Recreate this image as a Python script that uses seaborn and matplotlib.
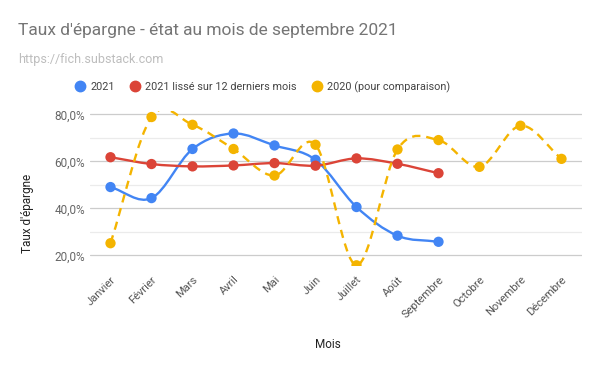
#!/usr/bin/env python3
# Taux d'epargne 2021 vs 2020, smoothed lines like the Google Sheets chart

import numpy as np
import pandas as pd
import seaborn as sns
import matplotlib.pyplot as plt
from matplotlib.path import Path
from matplotlib.patches import PathPatch
from matplotlib.lines import Line2D

sns.set_style("white")
plt.rcParams['font.family'] = ['Roboto', 'DejaVu Sans']

MONTHS = ["Janvier", "Février", "Mars", "Avril", "Mai", "Juin", "Juillet",
          "Août", "Septembre", "Octobre", "Novembre", "Décembre"]
TAUX_2021 = [49.1, 44.4, 65.3, 71.9, 66.8, 60.7, 40.6, 28.4, 25.8]
TAUX_2021_LISSE = [61.8, 58.9, 57.9, 58.3, 59.3, 58.2, 61.3, 59.0, 55.0]
TAUX_2020 = [25.2, 78.9, 75.6, 65.3, 54.0, 67.1, 15.8, 65.1, 69.1, 57.7, 75.2, 61.1]

SERIES = ["2021", "2021 lissé sur 12 derniers mois", "2020 (pour comparaison)"]
COLORS = ["#4285F4", "#DB4437", "#F4B400"]


def smooth_path(ys):
    # cubic bezier through every point, catmull-rom tangents
    ys = np.asarray(ys, dtype=float)
    xs = np.arange(len(ys), dtype=float)
    m = np.empty_like(ys)
    m[1:-1] = (ys[2:] - ys[:-2]) / 2
    m[0] = ys[1] - ys[0]
    m[-1] = ys[-1] - ys[-2]
    verts = [(xs[0], ys[0])]
    codes = [Path.MOVETO]
    for i in range(len(ys) - 1):
        verts += [(xs[i] + 1 / 3, ys[i] + m[i] / 3),
                  (xs[i + 1] - 1 / 3, ys[i + 1] - m[i + 1] / 3),
                  (xs[i + 1], ys[i + 1])]
        codes += [Path.CURVE4] * 3
    return Path(verts, codes)


fig = plt.figure(figsize=(6, 3.71), dpi=100)
ax = fig.add_axes([0.15, 0.283, 0.82, 0.418])

rows = []
for name, vals in zip(SERIES, [TAUX_2021, TAUX_2021_LISSE, TAUX_2020]):
    for i, v in enumerate(vals):
        rows.append({"mois": i, "taux": v, "serie": name})
df = pd.DataFrame(rows)

styles = ["-", "-", (0, (3.5, 2.5))]
for vals, color, ls in zip([TAUX_2021, TAUX_2021_LISSE, TAUX_2020], COLORS, styles):
    ax.add_patch(PathPatch(smooth_path(vals), facecolor="none", edgecolor=color,
                           lw=1.7, linestyle=ls, zorder=2))

sns.scatterplot(data=df, x="mois", y="taux", hue="serie", hue_order=SERIES,
                palette=COLORS, s=55, edgecolor="none", legend=False,
                ax=ax, zorder=3)

ax.set_xlim(-0.5, 11.5)
ax.set_ylim(15.5, 81.5)
ax.set_xticks(range(12))
ax.set_xticklabels(MONTHS, rotation=45, ha="right", rotation_mode="anchor",
                   color="#555555", fontsize=8)
ax.set_yticks([20, 40, 60, 80])
ax.set_yticklabels([f"{v:.1f}%".replace(".", ",") for v in [20, 40, 60, 80]],
                   color="#666666", fontsize=8.5)
ax.set_yticks([30, 50, 70], minor=True)
ax.tick_params(length=0, which="both")
ax.tick_params(axis="x", pad=6)
ax.grid(axis="y", which="major", color="#cccccc", lw=0.9)
ax.grid(axis="y", which="minor", color="#ebebeb", lw=0.9)
ax.set_axisbelow(True)
for s in ax.spines.values():
    s.set_visible(False)
ax.set_xlabel("")
ax.set_ylabel("")

fig.text(18 / 600, 1 - 30 / 371, "Taux d'épargne - état au mois de septembre 2021",
         fontsize=12.5, color="#757575", va="center")
fig.text(18 / 600, 1 - 59 / 371, "https://fich.substack.com",
         fontsize=9, color="#bdbdbd", va="center")
fig.text(328 / 600, 1 - 345 / 371, "Mois", fontsize=8.5, color="#222222",
         ha="center", va="center")
fig.text(28 / 600, 1 - 213 / 371, "Taux d'épargne", fontsize=8.5,
         color="#222222", rotation=90, ha="center", va="center")

handles = [Line2D([], [], marker="o", ls="", color=c, markersize=7.5) for c in COLORS]
fig.legend(handles, SERIES, loc="center", bbox_to_anchor=(262 / 600, 1 - 87 / 371),
           ncol=3, frameon=False, fontsize=7.8, handletextpad=0.3,
           columnspacing=1.3, handlelength=1.2, labelcolor="#444444")

fig.savefig("out.png", dpi=100)
